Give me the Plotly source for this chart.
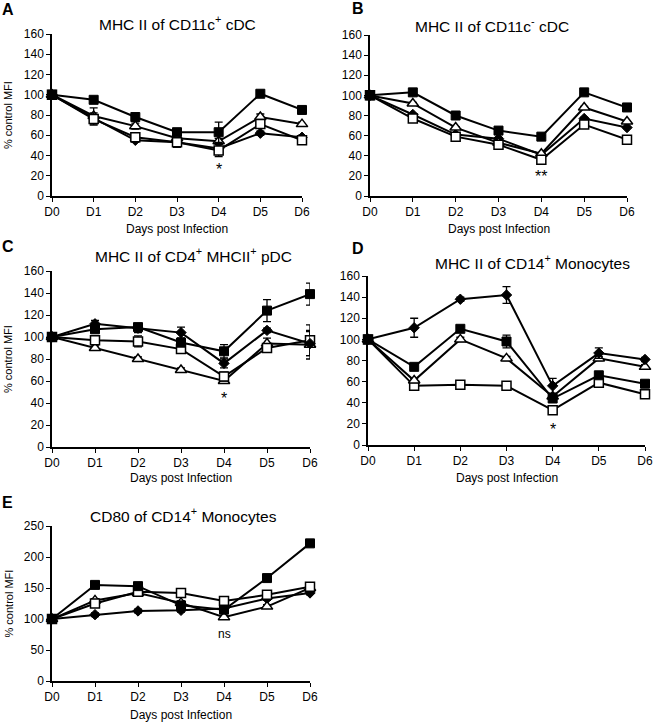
import plotly.graph_objects as go

W, H = 654, 723
days = [0, 1, 2, 3, 4, 5, 6]
day_labels = ["D0", "D1", "D2", "D3", "D4", "D5", "D6"]

# panel A - MHC II of CD11c+ cDC
a_sq_fill = [100, 95, 78, 63, 63, 101, 85]
a_tri = [100, 79, 69, 57, 54, 78, 71]
a_sq_open = [100, 76, 58, 53, 45, 71, 55]
a_dia = [100, 77, 55, 53, 47, 62, 58]
a_err_sq_fill = [0, 2, 2, 2, 10, 2, 2]
a_err_tri = [0, 8, 3, 3, 3, 3, 2]
a_err_sq_open = [0, 6, 3, 5, 6, 3, 2]
a_err_dia = [0, 2, 2, 2, 2, 2, 2]

# panel B - MHC II of CD11c- cDC
b_sq_fill = [100, 103, 80, 65, 59, 103, 88]
b_tri = [100, 92, 68, 53, 42, 88, 74]
b_sq_open = [100, 77, 59, 51, 36, 71, 56]
b_dia = [100, 81, 61, 57, 41, 77, 68]
b_err = [0, 1, 1, 1, 1, 1, 1]

# panel C - MHC II of CD4+ MHCII+ pDC
c_sq_fill = [100, 107, 109, 95, 87, 124, 139]
c_dia = [100, 112, 108, 104, 76, 106, 94]
c_sq_open = [100, 97, 96, 89, 64, 90, 97]
c_tri = [100, 90, 80, 70, 60, 94, 93]
c_err_sq_fill = [0, 3, 3, 4, 6, 10, 10]
c_err_dia = [0, 3, 4, 5, 4, 2, 11]
c_err_sq_open = [0, 3, 5, 3, 4, 3, 14]
c_err_tri = [0, 2, 2, 2, 2, 5, 13]

# panel D - MHC II of CD14+ Monocytes
d_dia = [100, 111, 138, 142, 56, 87, 81]
d_sq_fill = [100, 74, 110, 98, 44, 66, 58]
d_tri = [100, 61, 100, 82, 46, 82, 74]
d_sq_open = [100, 56, 57, 56, 33, 59, 48]
d_err_dia = [0, 9, 2, 8, 7, 5, 2]
d_err_sq_fill = [0, 2, 2, 6, 3, 2, 2]
d_err_tri = [0, 2, 2, 2, 2, 2, 2]
d_err_sq_open = [0, 2, 2, 2, 2, 2, 2]

# panel E - CD80 of CD14+ Monocytes
e_sq_fill = [100, 155, 153, 122, 115, 166, 222]
e_sq_open = [100, 125, 144, 142, 129, 139, 152]
e_tri = [100, 130, 142, 126, 103, 120, 150]
e_dia = [100, 107, 113, 114, 117, 133, 142]
e_err = [0, 3, 3, 3, 3, 3, 3]

FONT = "Liberation Sans, Arial, sans-serif"

# pixel boxes: x0, x1, ytop, ybottom
panels = [
    dict(letter="A", title="MHC II of CD11c<sup>+</sup> cDC", box=(52, 302, 34, 196),
         ymax=160, dtick=20, ytitle=True, xtitle_y=229, title_xy=(177, 23), letter_xy=(8, 10),
         mark=("*", 4, 26),
         series=[(a_dia, a_err_dia, "dia"), (a_tri, a_err_tri, "tri"),
                 (a_sq_open, a_err_sq_open, "sq_open"), (a_sq_fill, a_err_sq_fill, "sq_fill")]),
    dict(letter="B", title="MHC II of CD11c<sup>-</sup> cDC", box=(370, 627, 35, 196),
         ymax=160, dtick=20, ytitle=False, xtitle_y=229, title_xy=(492, 25), letter_xy=(358, 9),
         mark=("**", 4, 19),
         series=[(b_dia, b_err, "dia"), (b_tri, b_err, "tri"),
                 (b_sq_open, b_err, "sq_open"), (b_sq_fill, b_err, "sq_fill")]),
    dict(letter="C", title="MHC II of CD4<sup>+</sup> MHCII<sup>+</sup> pDC", box=(52, 310, 271, 447),
         ymax=160, dtick=20, ytitle=True, xtitle_y=478, title_xy=(193, 255), letter_xy=(8, 246),
         mark=("*", 4, 44),
         series=[(c_tri, c_err_tri, "tri"), (c_sq_open, c_err_sq_open, "sq_open"),
                 (c_dia, c_err_dia, "dia"), (c_sq_fill, c_err_sq_fill, "sq_fill")]),
    dict(letter="D", title="MHC II of CD14<sup>+</sup> Monocytes", box=(368, 645, 276, 445),
         ymax=160, dtick=20, ytitle=False, xtitle_y=478, title_xy=(532, 262), letter_xy=(358, 248),
         mark=("*", 4, 15),
         series=[(d_sq_open, d_err_sq_open, "sq_open"), (d_tri, d_err_tri, "tri"),
                 (d_sq_fill, d_err_sq_fill, "sq_fill"), (d_dia, d_err_dia, "dia")]),
    dict(letter="E", title="CD80 of CD14<sup>+</sup> Monocytes", box=(52, 310, 526, 681),
         ymax=250, dtick=50, ytitle=True, xtitle_y=715, title_xy=(183, 515), letter_xy=(7, 502),
         mark=("ns", 4, 76),
         series=[(e_dia, e_err, "dia"), (e_tri, e_err, "tri"),
                 (e_sq_open, e_err, "sq_open"), (e_sq_fill, e_err, "sq_fill")]),
]

MARKERS = {
    "sq_fill": dict(symbol="square", size=9, color="black", line=dict(color="black", width=1)),
    "sq_open": dict(symbol="square", size=9, color="white", line=dict(color="black", width=1.5)),
    "tri": dict(symbol="triangle-up", size=10, color="white", line=dict(color="black", width=1.5)),
    "dia": dict(symbol="diamond", size=8, color="black", line=dict(color="black", width=1)),
}

fig = go.Figure()
annotations = []

for i, p in enumerate(panels, start=1):
    x0, x1, yt, yb = p["box"]
    xa = "x" if i == 1 else f"x{i}"
    ya = "y" if i == 1 else f"y{i}"
    for vals, errs, kind in p["series"]:
        fig.add_trace(go.Scatter(
            x=days, y=vals, mode="lines+markers", xaxis=xa, yaxis=ya,
            line=dict(color="black", width=2), marker=MARKERS[kind],
            error_y=dict(type="data", array=errs, visible=True, color="black",
                         thickness=1.3, width=4),
            cliponaxis=False, showlegend=False,
        ))
    axis_common = dict(showline=True, linecolor="black", linewidth=1.5, ticks="outside",
                       ticklen=4, tickcolor="black", tickwidth=1.3, showgrid=False,
                       zeroline=False, automargin=False,
                       tickfont=dict(family=FONT, size=12, color="black"))
    fig.layout[f"xaxis{'' if i == 1 else i}"] = dict(
        axis_common, domain=[x0 / W, x1 / W], range=[0, 6], anchor=ya,
        tickvals=days, ticktext=day_labels, ticklabeloverflow="allow")
    fig.layout[f"yaxis{'' if i == 1 else i}"] = dict(
        axis_common, domain=[1 - yb / H, 1 - yt / H], range=[0, p["ymax"]], anchor=xa,
        dtick=p["dtick"], tick0=0)
    # panel title
    annotations.append(dict(text=p["title"], x=p["title_xy"][0] / W, y=1 - p["title_xy"][1] / H,
                            xref="paper", yref="paper", showarrow=False, xanchor="center",
                            yanchor="middle", font=dict(family=FONT, size=15.5, color="black")))
    # panel letter
    annotations.append(dict(text=f"<b>{p['letter']}</b>", x=p["letter_xy"][0] / W,
                            y=1 - p["letter_xy"][1] / H, xref="paper", yref="paper",
                            showarrow=False, xanchor="center", yanchor="middle",
                            font=dict(family=FONT, size=16, color="black")))
    # x title
    annotations.append(dict(text="Days post Infection", x=(x0 + x1) / 2 / W,
                            y=1 - p["xtitle_y"] / H, xref="paper", yref="paper",
                            showarrow=False, xanchor="center", yanchor="middle",
                            font=dict(family=FONT, size=12, color="black")))
    if p["ytitle"]:
        annotations.append(dict(text="% control MFI", x=8 / W, y=1 - (yt + yb) / 2 / H,
                                xref="paper", yref="paper", showarrow=False, textangle=-90,
                                xanchor="center", yanchor="middle",
                                font=dict(family=FONT, size=11, color="black")))
    # significance mark
    txt, mx, my = p["mark"]
    annotations.append(dict(text=txt, x=mx, y=my, xref=xa, yref=ya, showarrow=False,
                            xanchor="center", yanchor="middle",
                            font=dict(family=FONT, size=16 if "*" in txt else 12, color="black")))

fig.update_layout(
    width=W, height=H, margin=dict(l=0, r=0, t=0, b=0),
    paper_bgcolor="white", plot_bgcolor="white",
    annotations=annotations,
)

# page body has a default 8px margin; drop it so the figure fills the window
fig.write_html("out.html", config={"displayModeBar": False},
               post_script="document.body.style.margin='0';")
